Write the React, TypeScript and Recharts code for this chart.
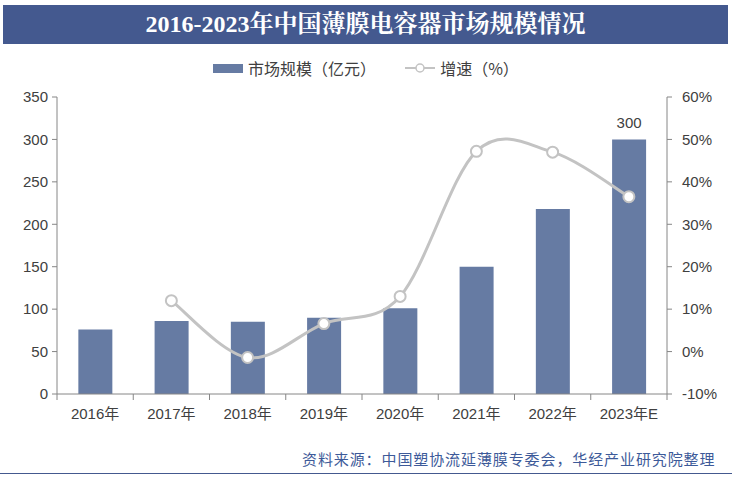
import React from 'react'
import {
  ComposedChart,
  Bar,
  Line,
  XAxis,
  YAxis,
  LabelList,
} from 'recharts'

const years = ['2016年', '2017年', '2018年', '2019年', '2020年', '2021年', '2022年', '2023年E']
const marketSize = [76, 86, 85, 90, 101, 150, 218, 300]
const growth: (number | null)[] = [null, 12.0, -1.4, 6.6, 13.0, 47.2, 47.0, 36.5]
const leftTicks = [0, 50, 100, 150, 200, 250, 300, 350]
const rightTicks = [-10, 0, 10, 20, 30, 40, 50, 60]

const data = years.map((year, i) => ({
  year,
  size: marketSize[i],
  growth: growth[i],
}))

const W = 732
const H = 482
const PLOT_LEFT = 57
const PLOT_RIGHT = 667
const BAND = (PLOT_RIGHT - PLOT_LEFT) / years.length

const BAR_COLOR = '#667ba3'
const LINE_COLOR = '#c3c3c3'
const AXIS_COLOR = '#868686'
const TEXT_COLOR = '#404040'
const FONT = 'Liberation Sans, Arial, "Noto Sans CJK SC", sans-serif'

// Excel-like smoothed line: Catmull-Rom as cubic Bezier
function smoothCurve(context: any) {
  let pts: [number, number][] = []
  return {
    areaStart() {},
    areaEnd() {},
    lineStart() {
      pts = []
    },
    point(x: number, y: number) {
      pts.push([+x, +y])
    },
    lineEnd() {
      if (!pts.length) return
      context.moveTo(pts[0][0], pts[0][1])
      for (let i = 0; i < pts.length - 1; i++) {
        const p0 = pts[i - 1] || pts[i]
        const p1 = pts[i]
        const p2 = pts[i + 1]
        const p3 = pts[i + 2] || p2
        context.bezierCurveTo(
          p1[0] + (p2[0] - p0[0]) / 6,
          p1[1] + (p2[1] - p0[1]) / 6,
          p2[0] - (p3[0] - p1[0]) / 6,
          p2[1] - (p3[1] - p1[1]) / 6,
          p2[0],
          p2[1]
        )
      }
    },
  }
}

function XTick(props: any) {
  const { x, y, payload, index } = props
  const left = x - BAND / 2
  return (
    <g>
      <line x1={left} y1={y - 8} x2={left} y2={y - 2} stroke={AXIS_COLOR} />
      {index === years.length - 1 && (
        <line x1={left + BAND} y1={y - 8} x2={left + BAND} y2={y - 2} stroke={AXIS_COLOR} />
      )}
      <text
        x={x}
        y={y + 17}
        textAnchor="middle"
        fill={TEXT_COLOR}
        fontSize={15}
        fontFamily={FONT}
      >
        {payload.value}
      </text>
    </g>
  )
}

function LastLabel(props: any) {
  const { x, y, width, value, index } = props
  if (index !== years.length - 1) return null
  return (
    <text
      x={x + width / 2}
      y={y - 11}
      textAnchor="middle"
      fill={TEXT_COLOR}
      fontSize={15}
      fontFamily={FONT}
    >
      {value}
    </text>
  )
}

function LegendBox() {
  return (
    <div
      style={{
        position: 'absolute',
        left: 0,
        top: 56,
        width: W,
        display: 'flex',
        justifyContent: 'center',
        alignItems: 'center',
        fontFamily: '"Noto Sans CJK SC", sans-serif',
        fontSize: 16,
        color: TEXT_COLOR,
      }}
    >
      <span style={{ display: 'inline-block', width: 30, height: 9, background: BAR_COLOR, marginRight: 5 }} />
      <span>市场规模（亿元）</span>
      <svg width={32} height={12} style={{ marginLeft: 28, marginRight: 4 }}>
        <line x1={1} y1={6} x2={31} y2={6} stroke={LINE_COLOR} strokeWidth={2} />
        <circle cx={16} cy={6} r={4} fill="#fff" stroke={LINE_COLOR} strokeWidth={1.5} />
      </svg>
      <span>增速（%）</span>
    </div>
  )
}

export default function App() {
  return (
    <div style={{ position: 'absolute', left: 0, top: 0, width: W, height: H, background: '#fff' }}>
      <div
        style={{
          position: 'absolute',
          left: 3,
          top: 5,
          width: 725,
          height: 39,
          background: '#44598f',
          color: '#fff',
          fontFamily: '"Liberation Serif", "Noto Serif CJK SC", "Noto Sans CJK SC", serif',
          fontWeight: 'bold',
          fontSize: 24,
          lineHeight: '39px',
          textAlign: 'center',
        }}
      >
        2016-2023年中国薄膜电容器市场规模情况
      </div>
      <LegendBox />
      <ComposedChart
        width={W}
        height={H}
        data={data}
        margin={{ top: 97, right: 0, bottom: 58, left: 0 }}
        barCategoryGap="28%"
        style={{ position: 'absolute', left: 0, top: 0 }}
      >
        <XAxis
          dataKey="year"
          height={30}
          stroke={AXIS_COLOR}
          tickLine={false}
          tick={<XTick />}
          interval={0}
        />
        <YAxis
          yAxisId="left"
          width={57}
          domain={[0, 350]}
          ticks={leftTicks}
          stroke={AXIS_COLOR}
          tickSize={5}
          tick={{ fill: TEXT_COLOR, fontSize: 15, fontFamily: FONT, dx: -2 }}
        />
        <YAxis
          yAxisId="right"
          orientation="right"
          width={65}
          domain={[-10, 60]}
          ticks={rightTicks}
          stroke={AXIS_COLOR}
          tickSize={5}
          tickFormatter={(v) => `${v}%`}
          tick={{ fill: TEXT_COLOR, fontSize: 15, fontFamily: FONT, textAnchor: 'start', dx: 8 }}
        />
        <Bar
          yAxisId="left"
          dataKey="size"
          name="市场规模（亿元）"
          fill={BAR_COLOR}
          isAnimationActive={false}
        >
          <LabelList dataKey="size" content={<LastLabel />} />
        </Bar>
        <Line
          yAxisId="right"
          type={smoothCurve as any}
          dataKey="growth"
          name="增速（%）"
          stroke={LINE_COLOR}
          strokeWidth={3}
          dot={{ r: 5.5, fill: '#fff', stroke: LINE_COLOR, strokeWidth: 2 }}
          activeDot={false}
          isAnimationActive={false}
        />
      </ComposedChart>
      <div
        style={{
          position: 'absolute',
          left: 302,
          top: 448,
          fontFamily: '"Noto Sans CJK SC", sans-serif',
          fontSize: 15,
          color: '#3d5a99',
          letterSpacing: 0.9,
        }}
      >
        资料来源：中国塑协流延薄膜专委会，华经产业研究院整理
      </div>
      <div
        style={{
          position: 'absolute',
          left: 0,
          top: 473,
          width: W,
          height: 1,
          background: '#44598f',
        }}
      />
    </div>
  )
}
